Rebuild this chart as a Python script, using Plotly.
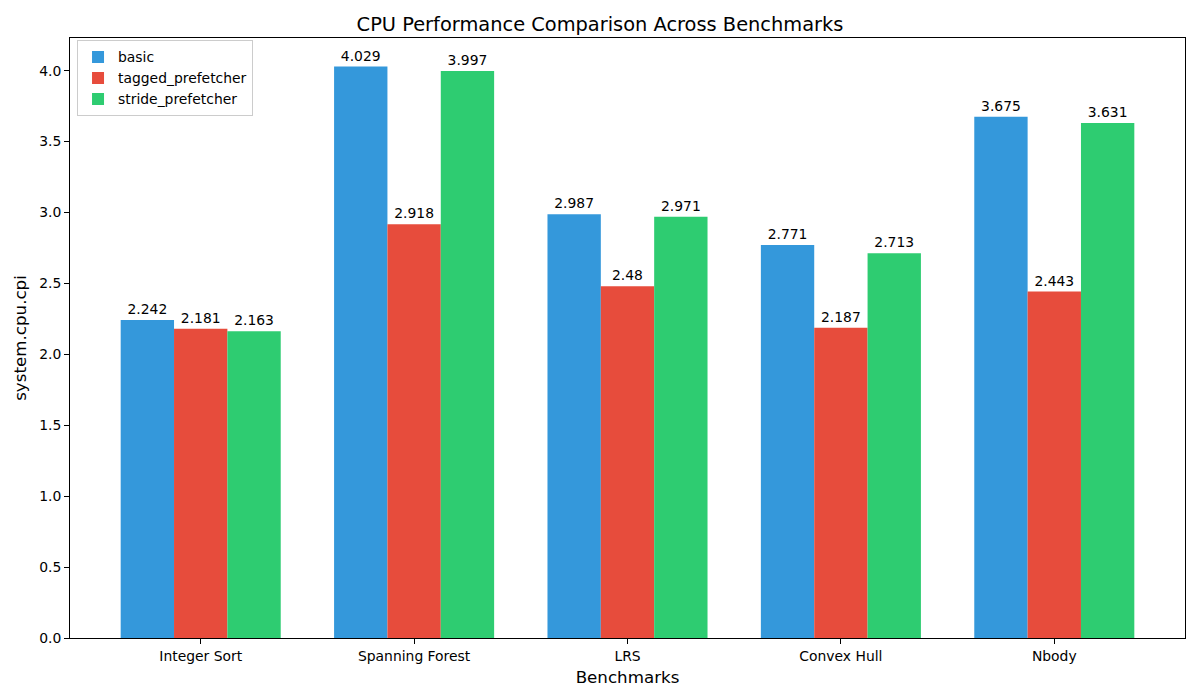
import plotly.graph_objects as go

categories = ["Integer Sort", "Spanning Forest", "LRS", "Convex Hull", "Nbody"]
basic = [2.242, 4.029, 2.987, 2.771, 3.675]
tagged = [2.181, 2.918, 2.48, 2.187, 2.443]
stride = [2.163, 3.997, 2.971, 2.713, 3.631]
series_names = ["basic", "tagged_prefetcher", "stride_prefetcher"]
colors = ["#3498db", "#e74c3c", "#2ecc71"]
yticks = [0.0, 0.5, 1.0, 1.5, 2.0, 2.5, 3.0, 3.5, 4.0]

FONT = "DejaVu Sans"
fig = go.Figure()
for name, vals, c in zip(series_names, [basic, tagged, stride], colors):
    fig.add_trace(go.Bar(
        x=categories, y=vals, name=name, marker=dict(color=c, line=dict(width=0)),
        text=[f"{v:g}" for v in vals], textposition="outside",
        textfont=dict(family=FONT, size=13.9, color="black"),
        cliponaxis=False,
    ))

fig.update_layout(
    width=1200, height=700,
    barmode="group", bargap=0.25, bargroupgap=0,
    plot_bgcolor="white", paper_bgcolor="white",
    margin=dict(l=70, r=15, t=38, b=62),
    font=dict(family=FONT, size=13.9, color="black"),
    title=dict(text="CPU Performance Comparison Across Benchmarks", x=0.5, xanchor="center",
               y=1 - 24 / 700, yanchor="middle", font=dict(family=FONT, size=19.4)),
    legend=dict(x=0.0063, y=0.996, xanchor="left", yanchor="top",
                bordercolor="#cccccc", borderwidth=1, bgcolor="rgba(255,255,255,0.8)",
                font=dict(family=FONT, size=13.9)),
)
fig.update_xaxes(
    range=[-0.6125, 4.6125], showline=True, linecolor="black", linewidth=1, mirror=True,
    ticks="outside", ticklen=5, tickcolor="black", showgrid=False,
    title=dict(text="Benchmarks", font=dict(family=FONT, size=16.7), standoff=8),
)
fig.update_yaxes(
    range=[0, 4.2305], showline=True, linecolor="black", linewidth=1, mirror=True,
    ticks="outside", ticklen=5, tickcolor="black", showgrid=False, zeroline=False,
    tickvals=yticks, ticktext=[f"{v:.1f}" for v in yticks],
    title=dict(text="system.cpu.cpi", font=dict(family=FONT, size=16.7), standoff=8),
)
fig.write_html("out.html")
